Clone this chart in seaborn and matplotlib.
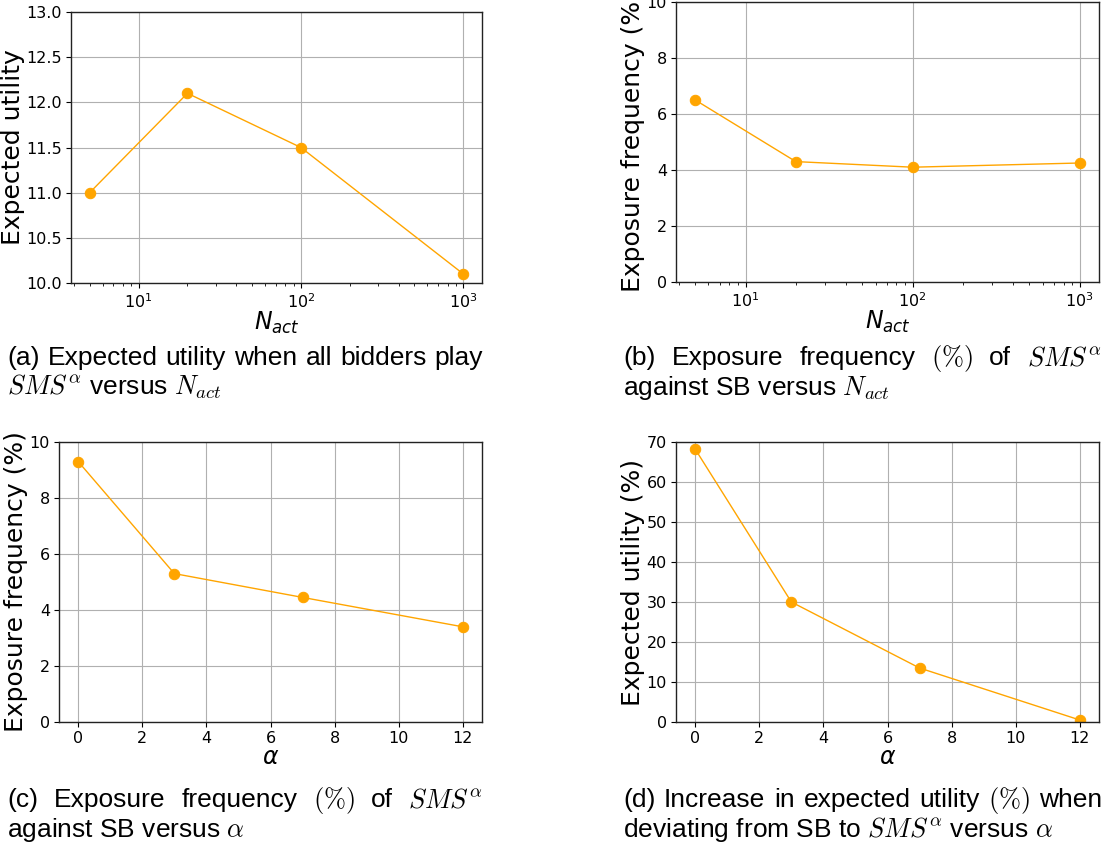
import matplotlib
matplotlib.use("Agg")
import matplotlib.pyplot as plt
import seaborn as sns

# 데이터
n_act = [5, 20, 100, 1000]
utility_all_sms = [11.0, 12.1, 11.5, 10.1]
exposure_vs_nact = [6.5, 4.3, 4.1, 4.25]
alpha = [0, 3, 7, 12]
exposure_vs_alpha = [9.3, 5.3, 4.45, 3.4]
utility_gain_vs_alpha = [68.2, 30.0, 13.5, 0.5]

sns.set_style("ticks")
plt.rcParams['font.family'] = ['DejaVu Sans']
plt.rcParams['text.color'] = 'black'
plt.rcParams['axes.labelcolor'] = 'black'
plt.rcParams['xtick.color'] = 'black'
plt.rcParams['ytick.color'] = 'black'

W, H = 1105, 843
fig = plt.figure(figsize=(W / 100, H / 100), dpi=100)


def add_ax(left, right, top, bottom):
    return fig.add_axes([left / W, 1 - bottom / H, (right - left) / W, (bottom - top) / H])


def draw(ax, x, y, xlabel, ylabel, ylim, logx=False):
    if logx:
        ax.set_xscale('log')
    sns.lineplot(x=x, y=y, ax=ax, color='orange', marker='o', markersize=7.5,
                 markeredgecolor='orange', linewidth=1)
    ax.set_ylim(*ylim)
    ax.grid(True, which='major', color='#b0b0b0', linewidth=0.8)
    ax.set_axisbelow(True)
    ax.set_xlabel(xlabel, fontsize=17, labelpad=-1)
    ax.set_ylabel(ylabel, fontsize=18, labelpad=1)
    ax.tick_params(which='major', labelsize=11.5, length=3.5, width=0.8, pad=3)
    ax.tick_params(which='minor', length=2, width=0.6)
    for s in ax.spines.values():
        s.set_color('#222222')
        s.set_linewidth(1)


ax_a = add_ax(71, 482, 12, 283)
draw(ax_a, n_act, utility_all_sms, '$N_{act}$', 'Expected utility', (10, 13), logx=True)
ax_b = add_ax(676, 1099, 2, 282)
draw(ax_b, n_act, exposure_vs_nact, '$N_{act}$', 'Exposure frequency (%)', (0, 10), logx=True)
ax_c = add_ax(59, 482, 442, 722)
draw(ax_c, alpha, exposure_vs_alpha, r'$\alpha$', 'Exposure frequency (%)', (0, 10))
ax_d = add_ax(676, 1099, 442, 722)
draw(ax_d, alpha, utility_gain_vs_alpha, r'$\alpha$', 'Expected utility (%)', (0, 70))

# 캡션 (양쪽 정렬)
cap_kw = dict(fontsize=19, family='Liberation Sans', math_fontfamily='cm', va='baseline')
renderer = fig.canvas.get_renderer()


def caption_line(tokens, x0, y, x1=None):
    if x1 is None:
        fig.text(x0 / W, 1 - y / H, ' '.join(tokens), **cap_kw)
        return
    texts = [fig.text(0, 1 - y / H, t, **cap_kw) for t in tokens]
    widths = [t.get_window_extent(renderer).width for t in texts]
    gap = (x1 - x0 - sum(widths)) / (len(tokens) - 1)
    x = x0
    for t, w in zip(texts, widths):
        t.set_x(x / W)
        x += w + gap


caption_line('(a) Expected utility when all bidders play'.split(), 7, 365, 483)
caption_line([r'$SMS^{\alpha}$', 'versus', r'$N_{act}$'], 7, 395)
caption_line(['(b)', 'Exposure', 'frequency', r'$(\%)$', 'of', r'$SMS^{\alpha}$'], 623, 365, 1102)
caption_line(['against', 'SB', 'versus', r'$N_{act}$'], 623, 395)
caption_line(['(c)', 'Exposure', 'frequency', r'$(\%)$', 'of', r'$SMS^{\alpha}$'], 7, 807, 483)
caption_line(['against', 'SB', 'versus', r'$\alpha$'], 7, 837)
caption_line(['(d)', 'Increase', 'in', 'expected', 'utility', r'$(\%)$', 'when'], 623, 807, 1102)
caption_line(['deviating', 'from', 'SB', 'to', r'$SMS^{\alpha}$', 'versus', r'$\alpha$'], 623, 837)

fig.savefig('out.png', dpi=100)
